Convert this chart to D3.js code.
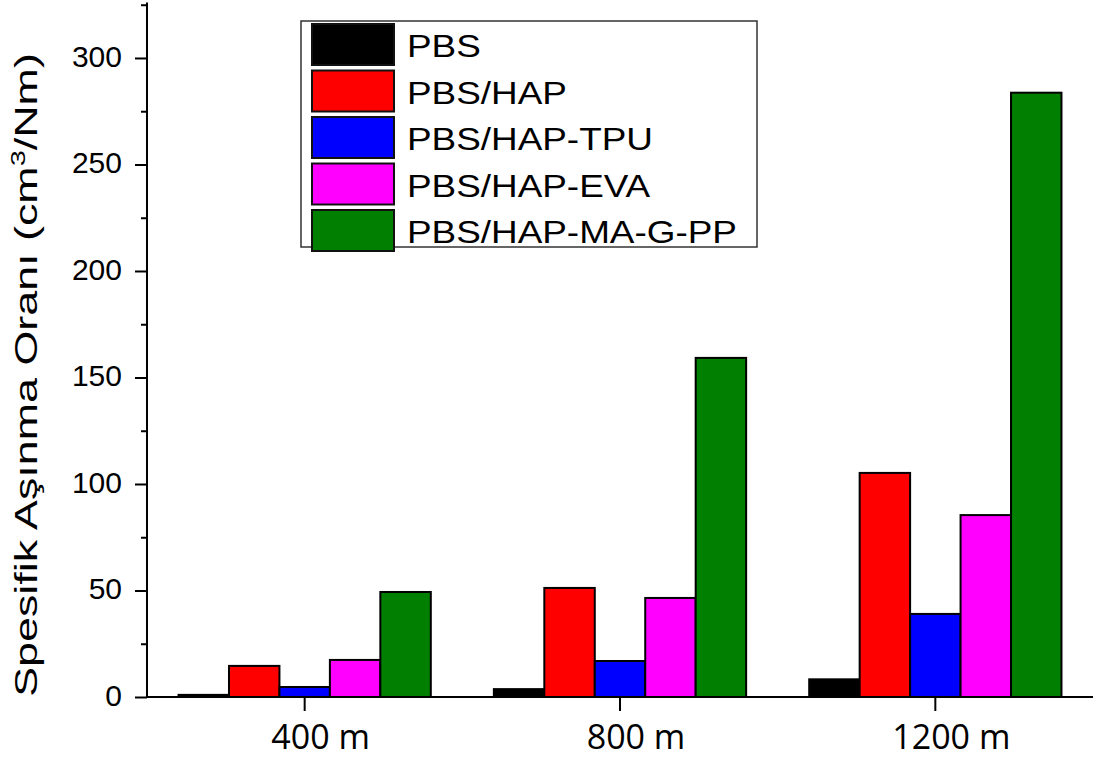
<!DOCTYPE html>
<html>
<head>
<meta charset="utf-8">
<script src="https://cdn.jsdelivr.net/npm/d3@7"></script>
<style>
  html, body { margin: 0; padding: 0; background: #fff; }
  svg { display: block; }
</style>
</head>
<body>
<svg id="chart" width="1093" height="764"></svg>
<script>
// ---- data ----
const categories = ["400 m", "800 m", "1200 m"];
const seriesNames = ["PBS", "PBS/HAP", "PBS/HAP-TPU", "PBS/HAP-EVA", "PBS/HAP-MA-G-PP"];
const seriesColors = ["#000000", "#ff0000", "#0000ff", "#ff00ff", "#007f00"];
const pbs = [1.0, 3.7, 8.3];
const pbsHap = [14.6, 51.2, 105.2];
const pbsHapTpu = [4.7, 16.9, 39.0];
const pbsHapEva = [17.4, 46.5, 85.4];
const pbsHapMaGPp = [49.3, 159.2, 283.7];
const yTicks = [0, 50, 100, 150, 200, 250, 300];
const yMinorTicks = [25, 75, 125, 175, 225, 275, 325];

const seriesValues = [pbs, pbsHap, pbsHapTpu, pbsHapEva, pbsHapMaGPp];

const svg = d3.select("#chart");
const plotLeft = 147, plotRight = 1093, plotTop = 2.6, plotBottom = 697;

const x = d3.scaleBand().domain(categories).range([plotLeft, plotRight])
  .paddingInner(0.2).paddingOuter(0.1);
const xs = d3.scaleBand().domain(seriesNames).range([0, x.bandwidth()]).padding(0);
const y = d3.scaleLinear().domain([0, 326]).range([plotBottom, plotTop]);

// bars
const rows = [];
categories.forEach((c, i) => {
  seriesNames.forEach((s, j) => rows.push({ cat: c, ser: s, v: seriesValues[j][i], color: seriesColors[j] }));
});
svg.append("g").selectAll("rect").data(rows).join("rect")
  .attr("x", d => x(d.cat) + xs(d.ser))
  .attr("y", d => y(d.v))
  .attr("width", xs.bandwidth())
  .attr("height", d => y(0) - y(d.v))
  .attr("fill", d => d.color)
  .attr("stroke", "#000")
  .attr("stroke-width", 2);

// y axis
const yAxis = svg.append("g").attr("transform", `translate(${plotLeft},0)`)
  .call(d3.axisLeft(y).tickValues(yTicks).tickSize(12).tickPadding(13).tickFormat(d3.format("d")));
yAxis.select(".domain").attr("d", `M0,${plotTop}V${plotBottom}`).attr("stroke-width", 2);
yAxis.selectAll(".tick line").attr("stroke-width", 2);
yAxis.selectAll(".tick text")
  .attr("font-family", "Liberation Sans, Arial, sans-serif")
  .attr("font-size", 30).attr("fill", "#000").attr("dy", "0.28em");
const yMinor = svg.append("g").attr("transform", `translate(${plotLeft},0)`)
  .call(d3.axisLeft(y).tickValues(yMinorTicks).tickSize(6).tickFormat(""));
yMinor.select(".domain").remove();
yMinor.selectAll(".tick line").attr("stroke-width", 2);

// x axis
const xAxis = svg.append("g").attr("transform", `translate(0,${plotBottom})`)
  .call(d3.axisBottom(x).tickSize(14).tickPadding(14));
xAxis.select(".domain").attr("d", `M${plotLeft},0H${plotRight}`).attr("stroke-width", 2);
xAxis.selectAll(".tick line").attr("stroke-width", 2);
xAxis.selectAll(".tick text")
  .attr("font-family", "Open Sans, sans-serif")
  .attr("font-size", 34).attr("fill", "#000").attr("dx", 16).attr("dy", "0.72em");

// y title
const title = svg.append("text")
  .attr("font-family", "Liberation Sans, Arial, sans-serif")
  .attr("font-size", 31).attr("fill", "#000").attr("text-anchor", "middle");
title.append("tspan").text("Spesifik Aşınma Oranı (cm");
title.append("tspan").text("3").attr("font-size", 20).attr("dy", -12);
title.append("tspan").text("/Nm)").attr("dy", 12);
const tw = title.node().getComputedTextLength();
title.attr("transform", `translate(37,375) rotate(-90) scale(${644 / tw},1)`);

// legend
const legend = svg.append("g");
legend.append("rect").attr("x", 301).attr("y", 21).attr("width", 456).attr("height", 226)
  .attr("fill", "#fff").attr("stroke", "#333").attr("stroke-width", 1.5);
const item = legend.selectAll("g.item").data(seriesNames).join("g").attr("class", "item")
  .attr("transform", (d, i) => `translate(0,${24 + i * 46.5})`);
item.append("rect").attr("x", 312).attr("y", 0).attr("width", 82).attr("height", 41)
  .attr("fill", (d, i) => seriesColors[i]).attr("stroke", "#111").attr("stroke-width", 2);
const lt = item.append("text")
  .attr("font-family", "Liberation Sans, Arial, sans-serif")
  .attr("font-size", 31).attr("fill", "#000")
  .text(d => d);
const longest = lt.nodes()[4].getComputedTextLength();
const sx = 330 / longest;
lt.attr("transform", `translate(407,33) scale(${sx},1)`);
</script>
</body>
</html>
